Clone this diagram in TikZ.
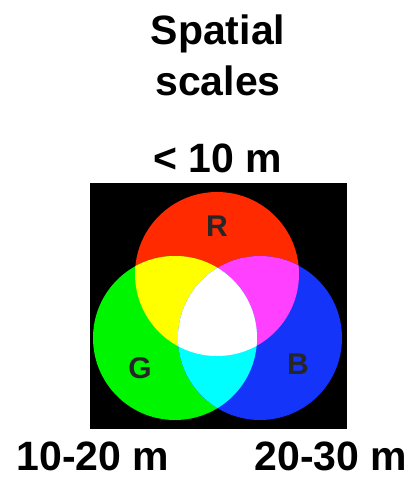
\documentclass[tikz,border=0pt]{standalone}
\usepackage{fontspec}
\setmainfont{Liberation Sans}
\usepackage{xcolor}
\usetikzlibrary{positioning}

\definecolor{rgbred}{RGB}{255,42,0}
\definecolor{rgbgreen}{RGB}{0,245,0}
\definecolor{rgbblue}{RGB}{20,52,250}
\definecolor{rgbyellow}{RGB}{255,255,0}
\definecolor{rgbmagenta}{RGB}{255,64,255}
\definecolor{rgbcyan}{RGB}{0,255,255}

\begin{document}
\begin{tikzpicture}[
	x=1pt, y=-1pt,
	every node/.style={font=\fontsize{41}{46}\selectfont\bfseries, inner sep=0pt},
	caption/.style={anchor=base},
	letter/.style={font=\fontsize{30}{32}\selectfont\bfseries, text=black!85},
	disc/.style={radius=82pt}
	]
	
	\useasboundingbox (0,0) rectangle (415,480);
	
	% titles
	\node[caption] (title1) at (218,44) {Spatial};
	\node[caption] (title2) at (218,95) {scales};
	\node[caption] (small) at (218,172) {< 10 m};
	
	% black background
	\fill[black] (90,183) rectangle (347,429);
	
	\coordinate (cR) at (217,274);
	\coordinate (cG) at (175,338);
	\coordinate (cB) at (260,338);
	
	\fill[rgbred] (cR) circle[disc];
	\fill[rgbgreen] (cG) circle[disc];
	\fill[rgbblue] (cB) circle[disc];
	
	\begin{scope}
		\clip (cR) circle[disc];
		\fill[rgbyellow] (cG) circle[disc];
		\fill[rgbmagenta] (cB) circle[disc];
	\end{scope}
	\begin{scope}
		\clip (cG) circle[disc];
		\fill[rgbcyan] (cB) circle[disc];
	\end{scope}
	\begin{scope}
		\clip (cR) circle[disc];
		\clip (cG) circle[disc];
		\fill[white] (cB) circle[disc];
	\end{scope}
	
	\node[letter] (R) at (217,226) {R};
	\node[letter] (G) at (140,368) {G};
	\node[letter] (B) at (298,364) {B};
	
	% scales
	\node[caption] (mid) at (93,470) {10-20 m};
	\node[caption] (large) at (331,470) {20-30 m};
	
\end{tikzpicture}
\end{document}
